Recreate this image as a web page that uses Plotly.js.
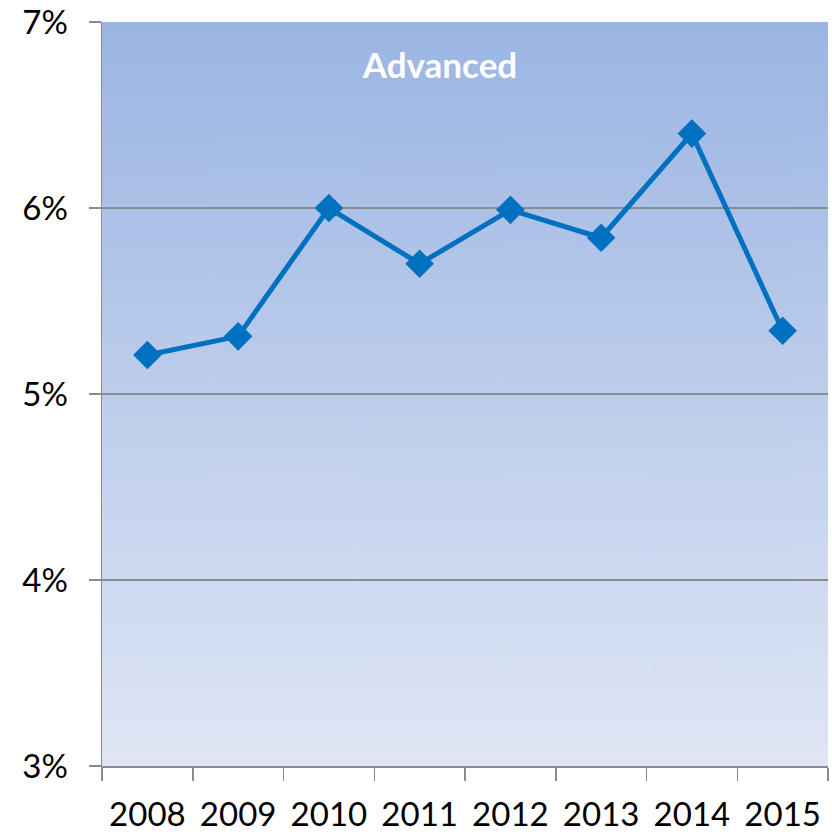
<!DOCTYPE html>
<html>
<head>
<meta charset="utf-8">
<script src="https://cdn.plot.ly/plotly-3.0.1.min.js"></script>
<style>html,body{margin:0;padding:0;background:#fff;}#chart{width:832px;height:835px;}</style>
</head>
<body>
<div id="chart"></div>
<script>
// Data
const years = ['2008', '2009', '2010', '2011', '2012', '2013', '2014', '2015'];
const advanced = [5.21, 5.31, 6.00, 5.70, 5.99, 5.84, 6.40, 5.34];
const yTickVals = [3, 4, 5, 6, 7];
const yTickText = ['3%', '4%', '5%', '6%', '7%'];

// gradient background image for plot area
function gradientURI() {
  const c = document.createElement('canvas');
  c.width = 10; c.height = 400;
  const ctx = c.getContext('2d');
  const g = ctx.createLinearGradient(0, 0, 0, 400);
  g.addColorStop(0, '#9bb5e3');
  g.addColorStop(1, '#dfe6f5');
  ctx.fillStyle = g;
  ctx.fillRect(0, 0, 10, 400);
  return c.toDataURL('image/png');
}

const font = "Lato, 'Open Sans', sans-serif";

const trace = {
  x: years,
  y: advanced,
  type: 'scatter',
  mode: 'lines+markers',
  line: {color: '#0070c0', width: 5},
  marker: {symbol: 'diamond', size: 22, color: '#0070c0'},
  hoverinfo: 'x+y'
};

const layout = {
  width: 832,
  height: 835,
  margin: {l: 102, r: 4, t: 22, b: 69},
  paper_bgcolor: '#ffffff',
  plot_bgcolor: 'rgba(0,0,0,0)',
  showlegend: false,
  title: {
    text: '<b>Advanced</b>',
    font: {family: font, size: 35, color: '#ffffff'},
    xref: 'container', x: 440 / 832, xanchor: 'center',
    yref: 'container', y: 1 - 66 / 835, yanchor: 'middle'
  },
  images: [{
    source: gradientURI(),
    xref: 'paper', yref: 'paper',
    x: 0, y: 1, sizex: 1, sizey: 1,
    xanchor: 'left', yanchor: 'top',
    sizing: 'stretch', layer: 'below'
  }],
  xaxis: {
    type: 'category',
    range: [-0.5, 7.5],
    tickson: 'boundaries',
    ticks: 'outside',
    ticklen: 13,
    tickwidth: 1.5,
    tickcolor: '#8c8c8c',
    showline: true,
    linecolor: '#8c8c8c',
    linewidth: 1.5,
    showgrid: false,
    zeroline: false,
    ticklabelstandoff: 19,
    tickfont: {family: font, size: 33, color: '#000000'},
    fixedrange: true
  },
  yaxis: {
    range: [3, 7],
    tickvals: yTickVals,
    ticktext: yTickText,
    ticks: 'outside',
    ticklen: 12,
    tickwidth: 1.5,
    tickcolor: '#8c8c8c',
    showline: true,
    linecolor: '#8c8c8c',
    linewidth: 1.5,
    showgrid: true,
    gridcolor: '#8c8c8c',
    gridwidth: 1.2,
    zeroline: false,
    ticklabelstandoff: 14,
    tickfont: {family: font, size: 33, color: '#000000'},
    fixedrange: true
  }
};

Plotly.newPlot('chart', [trace], layout, {displayModeBar: false, staticPlot: true});
</script>
</body>
</html>
